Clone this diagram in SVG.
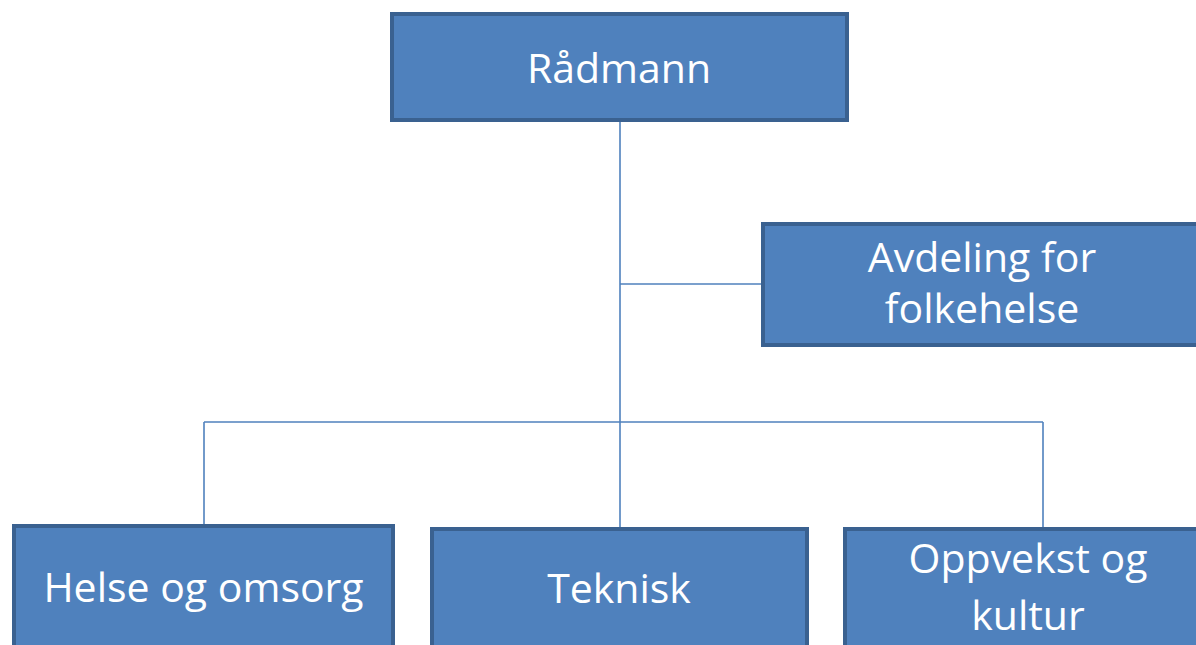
<svg xmlns="http://www.w3.org/2000/svg" width="1196" height="645" viewBox="0 0 1196 645">
<style>
.box{fill:#4f81bd;stroke:#3a6190;stroke-width:4}
.t{font-family:"Open Sans","Noto Sans",sans-serif;font-size:41px;fill:#ffffff;text-anchor:middle}
.c{stroke:#4f81bd;stroke-width:1.6;fill:none}
</style>
<rect width="1196" height="645" fill="#ffffff"/>
<g id="connectors">
<line class="c" x1="620" y1="122" x2="620" y2="528"/>
<line class="c" x1="620" y1="284" x2="762" y2="284"/>
<line class="c" x1="204" y1="422" x2="1043" y2="422"/>
<line class="c" x1="204" y1="422" x2="204" y2="525"/>
<line class="c" x1="1043" y1="422" x2="1043" y2="528"/>
</g>
<g id="radmann">
<rect class="box" x="392" y="14" width="455" height="106"/>
<text class="t" x="619" y="83">Rådmann</text>
</g>
<g id="folkehelse">
<rect class="box" x="763" y="224" width="460" height="121"/>
<text class="t" x="982" y="272">Avdeling for</text>
<text class="t" x="982" y="323">folkehelse</text>
</g>
<g id="helse">
<rect class="box" x="14" y="526" width="379" height="140"/>
<text class="t" x="203.5" y="602">Helse og omsorg</text>
</g>
<g id="teknisk">
<rect class="box" x="432" y="529" width="375" height="140"/>
<text class="t" x="619" y="603">Teknisk</text>
</g>
<g id="oppvekst">
<rect class="box" x="845" y="529" width="380" height="140"/>
<text class="t" x="1028" y="573">Oppvekst og</text>
<text class="t" x="1028" y="630">kultur</text>
</g>
</svg>
